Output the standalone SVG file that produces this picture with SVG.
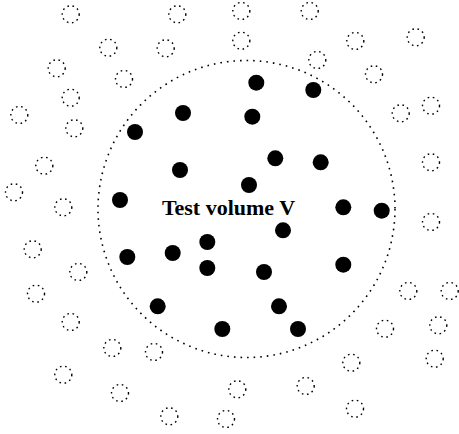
<svg xmlns="http://www.w3.org/2000/svg" width="459" height="434" viewBox="0 0 459 434">
<style>
.open{fill:none;stroke:#000;stroke-width:1.4;stroke-dasharray:1.6 3.6}
.full{fill:#000}
.vol{fill:none;stroke:#000;stroke-width:1.6;stroke-dasharray:1.6 5}
.lbl{font-family:"Liberation Serif","Times New Roman",serif;font-weight:bold;font-size:22px;text-anchor:middle;fill:#000}
</style>
<rect width="459" height="434" fill="#fff"/>
<g id="test-volume">
<circle class="vol" cx="246.5" cy="209" r="148.5"/>
<text class="lbl" x="228.5" y="215">Test volume V</text>
</g>
<g id="inside">
<circle class="full" cx="256.3" cy="82.7" r="8"/>
<circle class="full" cx="313.3" cy="90" r="8"/>
<circle class="full" cx="183" cy="113" r="8"/>
<circle class="full" cx="252.3" cy="116.7" r="8"/>
<circle class="full" cx="135" cy="132" r="8"/>
<circle class="full" cx="275.3" cy="158.3" r="8"/>
<circle class="full" cx="320.7" cy="162.3" r="8"/>
<circle class="full" cx="180" cy="170" r="8"/>
<circle class="full" cx="249" cy="185" r="8"/>
<circle class="full" cx="120" cy="200" r="8"/>
<circle class="full" cx="343.3" cy="207.3" r="8"/>
<circle class="full" cx="381.7" cy="210.7" r="8"/>
<circle class="full" cx="283" cy="230.3" r="8"/>
<circle class="full" cx="207.3" cy="242" r="8"/>
<circle class="full" cx="127.3" cy="257" r="8"/>
<circle class="full" cx="172.7" cy="253" r="8"/>
<circle class="full" cx="207.3" cy="268" r="8"/>
<circle class="full" cx="264" cy="272" r="8"/>
<circle class="full" cx="343.3" cy="264.7" r="8"/>
<circle class="full" cx="157.7" cy="306.3" r="8"/>
<circle class="full" cx="279" cy="306.3" r="8"/>
<circle class="full" cx="222.3" cy="329" r="8"/>
<circle class="full" cx="298" cy="329" r="8"/>
</g>
<g id="outside">
<circle class="open" cx="70.7" cy="14.3" r="8.5"/>
<circle class="open" cx="177.3" cy="14.3" r="8.5"/>
<circle class="open" cx="108.3" cy="47.7" r="8.5"/>
<circle class="open" cx="165.7" cy="48.3" r="8.5"/>
<circle class="open" cx="56.7" cy="68.3" r="8.5"/>
<circle class="open" cx="124" cy="79" r="8.5"/>
<circle class="open" cx="70.7" cy="97.7" r="8.5"/>
<circle class="open" cx="19.3" cy="115" r="8.5"/>
<circle class="open" cx="74.3" cy="128.3" r="8.5"/>
<circle class="open" cx="44.3" cy="165.7" r="8.5"/>
<circle class="open" cx="14" cy="192.3" r="8.5"/>
<circle class="open" cx="63.3" cy="207.3" r="8.5"/>
<circle class="open" cx="241.3" cy="11" r="8.5"/>
<circle class="open" cx="309.7" cy="11" r="8.5"/>
<circle class="open" cx="241.3" cy="40.7" r="8.5"/>
<circle class="open" cx="355.3" cy="41" r="8.5"/>
<circle class="open" cx="415.7" cy="37.3" r="8.5"/>
<circle class="open" cx="317.3" cy="60" r="8.5"/>
<circle class="open" cx="374" cy="74.3" r="8.5"/>
<circle class="open" cx="400.7" cy="113.3" r="8.5"/>
<circle class="open" cx="431" cy="105.7" r="8.5"/>
<circle class="open" cx="431" cy="162.3" r="8.5"/>
<circle class="open" cx="431" cy="222" r="8.5"/>
<circle class="open" cx="32.7" cy="249.3" r="8.5"/>
<circle class="open" cx="78.3" cy="272" r="8.5"/>
<circle class="open" cx="36" cy="293.7" r="8.5"/>
<circle class="open" cx="70.7" cy="322" r="8.5"/>
<circle class="open" cx="112.3" cy="348" r="8.5"/>
<circle class="open" cx="154" cy="352" r="8.5"/>
<circle class="open" cx="63.3" cy="374.7" r="8.5"/>
<circle class="open" cx="120" cy="393" r="8.5"/>
<circle class="open" cx="169.3" cy="416.3" r="8.5"/>
<circle class="open" cx="226" cy="419" r="8.5"/>
<circle class="open" cx="237.3" cy="389.3" r="8.5"/>
<circle class="open" cx="408.3" cy="291" r="8.5"/>
<circle class="open" cx="449.7" cy="291" r="8.5"/>
<circle class="open" cx="385" cy="328.7" r="8.5"/>
<circle class="open" cx="438.3" cy="325.3" r="8.5"/>
<circle class="open" cx="434.7" cy="358.7" r="8.5"/>
<circle class="open" cx="351.3" cy="362.7" r="8.5"/>
<circle class="open" cx="305.7" cy="386" r="8.5"/>
<circle class="open" cx="355" cy="408.7" r="8.5"/>
</g>
</svg>
